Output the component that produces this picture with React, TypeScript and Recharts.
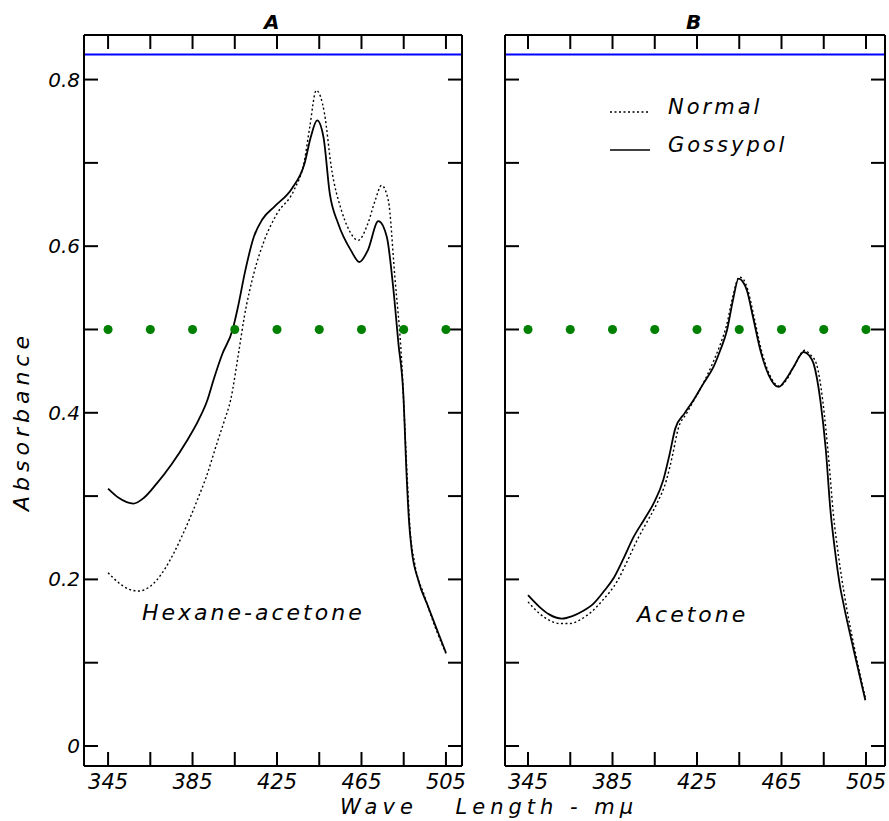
import { ComposedChart, Line, Scatter, XAxis, YAxis, ReferenceLine } from "recharts";

// wavelength (nm) / absorbance
const hexNormalNm = [345, 350, 355, 359.5, 364, 368, 372, 376, 380, 384, 388, 391.5, 396.5, 400, 403, 407, 409.5, 414, 419, 425, 433, 438, 440.5, 443.6, 447.5, 450.7, 455.5, 459, 463.4, 468, 471.5, 474.5, 477.7, 480.8, 484, 486.5, 488, 490, 495, 500, 505];
const hexNormalAbs = [0.208, 0.196, 0.188, 0.186, 0.19, 0.199, 0.213, 0.231, 0.252, 0.275, 0.3, 0.323, 0.363, 0.39, 0.415, 0.475, 0.515, 0.567, 0.607, 0.639, 0.667, 0.703, 0.743, 0.787, 0.759, 0.695, 0.643, 0.62, 0.607, 0.627, 0.655, 0.673, 0.655, 0.563, 0.463, 0.33, 0.26, 0.222, 0.179, 0.142, 0.111];

const hexGossNm = [345, 350, 357, 362, 368, 375, 382.5, 388, 392, 395, 399, 404, 406.5, 410, 414, 418, 424, 432, 438, 441, 444, 447, 450, 454, 460, 464, 468, 473, 477, 480, 482.5, 484.8, 486.4, 487.5, 488.8, 491.9, 496.6, 501, 505];
const hexGossAbs = [0.309, 0.298, 0.291, 0.298, 0.315, 0.338, 0.367, 0.392, 0.415, 0.44, 0.47, 0.5, 0.527, 0.571, 0.611, 0.632, 0.648, 0.669, 0.699, 0.731, 0.751, 0.731, 0.663, 0.627, 0.595, 0.581, 0.595, 0.63, 0.611, 0.551, 0.483, 0.423, 0.323, 0.27, 0.235, 0.199, 0.167, 0.138, 0.112];

const aceNormalNm = [345, 350, 355, 360, 365, 370, 375, 380, 387.5, 392, 397, 402, 406, 410.5, 413.5, 416, 420, 424, 428.5, 432.5, 436, 439, 442, 445, 447, 449, 452, 455.5, 459.5, 464, 467.5, 471, 476, 478.5, 481.5, 484.5, 487.5, 489.5, 492, 495, 499.5, 504.7];
const aceNormalAbs = [0.173, 0.16, 0.151, 0.147, 0.147, 0.152, 0.161, 0.174, 0.199, 0.222, 0.249, 0.272, 0.291, 0.319, 0.35, 0.38, 0.399, 0.417, 0.438, 0.46, 0.482, 0.505, 0.54, 0.563, 0.56, 0.548, 0.515, 0.475, 0.445, 0.432, 0.44, 0.456, 0.475, 0.47, 0.459, 0.415, 0.34, 0.28, 0.228, 0.178, 0.118, 0.058];

const aceGossNm = [345, 350, 355, 361, 366, 371, 376, 381, 385.4, 390, 395, 400, 404.4, 409, 412, 414.7, 419, 423.3, 428, 432.8, 436, 439.2, 442, 444.7, 446.5, 448.6, 451.5, 455, 459, 463.6, 467, 470.7, 475.5, 478, 480.2, 483.4, 486, 488.1, 490.3, 492.7, 494.4, 499.2, 504.7];
const aceGossAbs = [0.181, 0.168, 0.158, 0.153, 0.156, 0.162, 0.171, 0.186, 0.201, 0.224, 0.251, 0.272, 0.291, 0.319, 0.35, 0.381, 0.399, 0.415, 0.435, 0.455, 0.475, 0.499, 0.535, 0.561, 0.558, 0.547, 0.515, 0.475, 0.445, 0.431, 0.44, 0.455, 0.473, 0.469, 0.459, 0.415, 0.355, 0.285, 0.235, 0.192, 0.17, 0.115, 0.055];

const xTicks = [345, 365, 385, 405, 425, 445, 465, 485, 505];
const xLabels = [345, 385, 425, 465, 505];
const yTicks = [0, 0.1, 0.2, 0.3, 0.4, 0.5, 0.6, 0.7, 0.8];
const yLabels: Record<string, string> = { "0": "0", "0.2": "0.2", "0.4": "0.4", "0.6": "0.6", "0.8": "0.8" };

const FONT = "'DejaVu Sans', sans-serif";
const yDomain = [-0.024, 0.8535];
const topTickMid = 0.5; // diagnostic

const zip = (nm: number[], abs: number[]) => nm.map((x, i) => ({ nm: x, abs: abs[i] }));
const topTickData = xTicks.map((t) => ({ nm: t, abs: topTickMid }));

const tickStyle = { fontFamily: FONT, fontStyle: "italic", fontSize: 21, fill: "#000" };
const blank = () => "";

const TopTick = (p: any) => (
  <line x1={p.cx} x2={p.cx} y1={p.cy - 7} y2={p.cy + 7} stroke="red" strokeWidth={2} />
);

function Panel(props: {
  width: number;
  xDomain: number[];
  yAxisWidth: number;
  marginRight: number;
  showYLabels: boolean;
  normal: { nm: number; abs: number }[];
  goss: { nm: number; abs: number }[];
}) {
  const { width, xDomain, yAxisWidth, marginRight, showYLabels, normal, goss } = props;
  return (
    <ComposedChart width={width} height={821} margin={{ top: 34, right: marginRight, bottom: 15, left: 0 }}>
      <XAxis xAxisId="b" type="number" dataKey="nm" domain={xDomain} allowDataOverflow ticks={xTicks} interval={0}
        height={40} tickSize={-14} tickMargin={22} stroke="#000" strokeWidth={2} tick={tickStyle}
        tickFormatter={(v: number) => (xLabels.includes(v) ? String(v) : "")} />
      <XAxis xAxisId="t" orientation="top" type="number" dataKey="nm" domain={xDomain} allowDataOverflow ticks={xTicks}
        interval={0} height={1} tickSize={-14} stroke="#000" strokeWidth={2} tick={tickStyle} tickFormatter={blank} />
      <YAxis yAxisId="l" type="number" domain={yDomain} allowDataOverflow ticks={yTicks} interval={0} width={yAxisWidth}
        tickSize={-14} tickMargin={18} stroke="#000" strokeWidth={2} tick={{ ...tickStyle, fontSize: 20 }}
        tickFormatter={(v: number) => (showYLabels ? yLabels[String(v)] ?? "" : "")} />
      <YAxis yAxisId="r" orientation="right" type="number" domain={yDomain} allowDataOverflow ticks={yTicks} interval={0}
        width={1} tickSize={-14} stroke="#000" strokeWidth={2} tick={tickStyle} tickFormatter={blank} />
      <ReferenceLine xAxisId="b" yAxisId="l" y={0.83} stroke="blue" strokeWidth={2} />
      <Line xAxisId="t" yAxisId="r" data={goss} dataKey="abs" stroke="none" dot={false} activeDot={false} isAnimationActive={false} />
      <Scatter xAxisId="b" yAxisId="l" data={topTickData} dataKey="abs" fill="green" isAnimationActive={false} />
      <Line xAxisId="b" yAxisId="l" data={normal} dataKey="abs" type="monotone" stroke="#000" strokeWidth={1.4}
        strokeDasharray="2 2.5" dot={false} activeDot={false} isAnimationActive={false} />
      <Line xAxisId="b" yAxisId="l" data={goss} dataKey="abs" type="monotone" stroke="#000" strokeWidth={1.8}
        dot={false} activeDot={false} isAnimationActive={false} />
    </ComposedChart>
  );
}

const textBase = { position: "absolute", fontFamily: FONT, fontStyle: "italic", color: "#000", whiteSpace: "nowrap", lineHeight: 1 } as const;
const legendText = { fontFamily: FONT, fontStyle: "italic", fontSize: 21, letterSpacing: 3 } as const;

export default function App() {
  return (
    <div style={{ position: "absolute", left: 0, top: 0, width: 889, height: 821, background: "#fff" }}>
      <div style={{ position: "absolute", left: 0, top: 0 }}>
        <Panel width={470} xDomain={[333.6, 512.6]} yAxisWidth={84} marginRight={7} showYLabels
          normal={zip(hexNormalNm, hexNormalAbs)} goss={zip(hexGossNm, hexGossAbs)} />
      </div>
      <div style={{ position: "absolute", left: 470, top: 0 }}>
        <Panel width={419} xDomain={[334.1, 514]} yAxisWidth={35} marginRight={3} showYLabels={false}
          normal={zip(aceNormalNm, aceNormalAbs)} goss={zip(aceGossNm, aceGossAbs)} />
      </div>
      <div style={{ position: "absolute", left: 610, top: 88 }}>
        <div style={{ display: "flex", alignItems: "center", height: 38 }}>
          <svg width={58} height={20}><line x1={0} x2={40} y1={15} y2={15} stroke="#000" strokeWidth={1.4} strokeDasharray="2 2.5" /></svg>
          <span style={legendText}>Normal</span>
        </div>
        <div style={{ display: "flex", alignItems: "center", height: 38 }}>
          <svg width={58} height={20}><line x1={0} x2={40} y1={15} y2={15} stroke="#000" strokeWidth={1.6} /></svg>
          <span style={legendText}>Gossypol</span>
        </div>
      </div>
      <div style={{ ...textBase, left: 264, top: 12, fontSize: 20, fontWeight: "bold" }}>A</div>
      <div style={{ ...textBase, left: 686, top: 12, fontSize: 20, fontWeight: "bold" }}>B</div>
      <div style={{ ...textBase, left: 142, top: 602, fontSize: 22, letterSpacing: 3 }}>Hexane-acetone</div>
      <div style={{ ...textBase, left: 637, top: 604, fontSize: 22, letterSpacing: 3 }}>Acetone</div>
      <div style={{ ...textBase, left: 340, top: 797, fontSize: 21, letterSpacing: 5 }}>{"Wave\u2003 Length - m\u03bc"}</div>
      <div style={{ ...textBase, left: 22, top: 421, fontSize: 22, letterSpacing: 5, transform: "translate(-50%, -50%) rotate(-90deg)" }}>Absorbance</div>
    </div>
  );
}
